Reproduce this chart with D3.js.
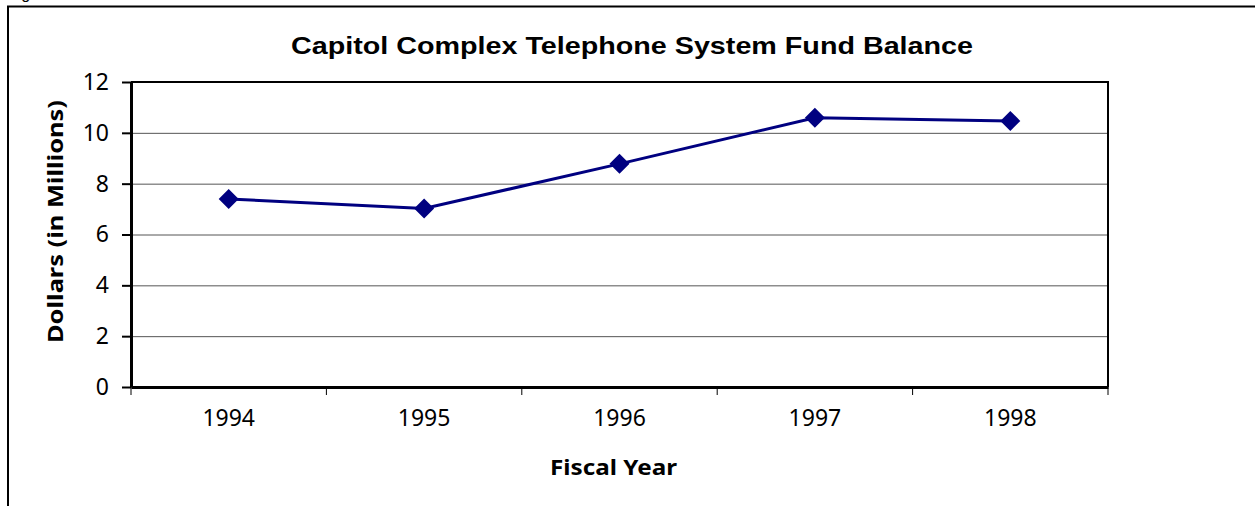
<!DOCTYPE html>
<html>
<head>
<meta charset="utf-8">
<script src="https://cdn.jsdelivr.net/npm/d3@7"></script>
<style>
    html, body { margin: 0; padding: 0; background: #fff; }
    svg { display: block; }
</style>
</head>
<body>
<svg id="chart" width="1255" height="506"></svg>
<script>
'use strict';

// Chart data
const years = ["1994", "1995", "1996", "1997", "1998"];
const balance = [7.4, 7.02, 8.78, 10.59, 10.47]; // dollars, in millions
const yTicks = [0, 2, 4, 6, 8, 10, 12];
const title = "Capitol Complex Telephone System Fund Balance";
const xTitle = "Fiscal Year";
const yTitle = "Dollars (in Millions)";

const tickFont = "'Noto Sans', 'Open Sans', sans-serif";
const titleFont = "'Liberation Sans', Arial, sans-serif";
const lineColor = "#000080";

function main() {
    const svg = d3.select("#chart");
    const margin = {top: 82, left: 131, right: 1108, bottom: 387};

    // frame round the figure (right side runs off the page)
    svg.append("path")
        .attr("d", "M8,507 L8,6.5 L1256,6.5")
        .attr("fill", "none")
        .attr("stroke", "#000")
        .attr("stroke-width", 2);
    // caption above the frame, only the descender shows
    svg.append("text")
        .attr("x", 8).attr("y", -1.5)
        .attr("font-family", titleFont)
        .attr("font-size", 16)
        .text("Figure");

    const x = d3.scaleBand().domain(years).range([margin.left, margin.right]).padding(0);
    const y = d3.scaleLinear().domain([0, 12]).range([margin.bottom, margin.top]);

    // gridlines
    svg.append("g").selectAll("line").data(yTicks.filter(d => d > 0 && d < 12)).join("line")
        .attr("x1", margin.left).attr("x2", margin.right)
        .attr("y1", d => y(d) + 0.5).attr("y2", d => y(d) + 0.5)
        .attr("stroke", "#555").attr("stroke-width", 1);

    // plot area border (top, right)
    svg.append("path")
        .attr("d", `M${margin.left},${margin.top} L${margin.right},${margin.top} L${margin.right},${margin.bottom}`)
        .attr("fill", "none").attr("stroke", "#000").attr("stroke-width", 2);

    // y axis
    const yAxis = svg.append("g")
        .attr("transform", `translate(${margin.left},0)`)
        .call(d3.axisLeft(y).tickValues(yTicks).tickSize(9).tickPadding(13).tickSizeOuter(0));
    yAxis.select(".domain").attr("stroke-width", 3);
    yAxis.selectAll(".tick line").attr("stroke-width", 2);
    yAxis.selectAll("text").attr("font-family", tickFont).attr("font-size", 23).attr("fill", "#000");

    // x axis: labels at centres, ticks between categories
    const xAxis = svg.append("g")
        .attr("transform", `translate(0,${margin.bottom})`)
        .call(d3.axisBottom(x).tickSize(0).tickPadding(23).tickSizeOuter(0));
    xAxis.select(".domain").attr("stroke-width", 3);
    xAxis.selectAll("text").attr("font-family", tickFont).attr("font-size", 23).attr("fill", "#000");
    const edges = years.map(d => x(d)).concat([x.range()[1]]);
    xAxis.append("g").selectAll("line").data(edges).join("line")
        .attr("x1", d => d).attr("x2", d => d)
        .attr("y1", 0).attr("y2", 8)
        .attr("stroke", "#000").attr("stroke-width", 1);

    // the series
    const cx = d => x(d) + x.bandwidth() / 2;
    const line = d3.line().x((d, i) => cx(years[i])).y(d => y(d));
    svg.append("path")
        .datum(balance)
        .attr("d", line)
        .attr("fill", "none")
        .attr("stroke", lineColor)
        .attr("stroke-width", 3);

    svg.append("g").selectAll("path").data(balance).join("path")
        .attr("transform", (d, i) => `translate(${cx(years[i])},${y(d)}) rotate(45)`)
        .attr("d", d3.symbol(d3.symbolSquare, 200))
        .attr("fill", lineColor);

    // titles (the original is a little wider than these fonts)
    svg.append("text")
        .attr("x", 632).attr("y", 54)
        .attr("text-anchor", "middle")
        .attr("font-family", titleFont)
        .attr("font-weight", "bold")
        .attr("font-size", 24)
        .attr("textLength", 682)
        .attr("lengthAdjust", "spacingAndGlyphs")
        .text(title);

    svg.append("text")
        .attr("x", 613.5).attr("y", 475)
        .attr("text-anchor", "middle")
        .attr("font-family", tickFont)
        .attr("font-weight", "bold")
        .attr("font-size", 22)
        .attr("textLength", 127)
        .attr("lengthAdjust", "spacingAndGlyphs")
        .text(xTitle);

    svg.append("text")
        .attr("transform", "translate(63,221.5) rotate(-90)")
        .attr("text-anchor", "middle")
        .attr("font-family", tickFont)
        .attr("font-weight", "bold")
        .attr("font-size", 22)
        .attr("textLength", 243)
        .attr("lengthAdjust", "spacingAndGlyphs")
        .text(yTitle);
}

main();
</script>
</body>
</html>
